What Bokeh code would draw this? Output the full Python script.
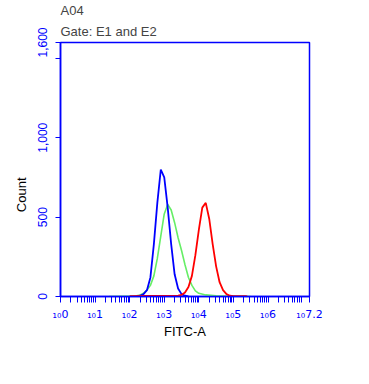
from bokeh.plotting import figure
from bokeh.models import FixedTicker, Title, Range1d
from bokeh.embed import file_html
from bokeh.resources import INLINE

# log10(FITC-A) bin centres and counts
blue_x = [2.2, 2.3, 2.4, 2.5, 2.6, 2.7, 2.8, 2.9, 3.0, 3.1, 3.2, 3.3, 3.4, 3.5, 3.6, 3.7]
blue_y = [0, 5, 15, 40, 120, 330, 590, 800, 750, 560, 330, 140, 50, 15, 5, 0]

green_x = [1.4, 1.8, 2.0, 2.2, 2.3, 2.4, 2.5, 2.6, 2.7, 2.8, 2.9, 3.0, 3.1, 3.2, 3.3, 3.4,
           3.5, 3.6, 3.7, 3.8, 3.9, 4.0, 4.2, 4.5, 5.0, 5.3, 5.5]
green_y = [0, 2, 3, 5, 10, 20, 40, 70, 130, 240, 380, 520, 580, 545, 465, 370,
           290, 200, 120, 70, 35, 20, 10, 5, 3, 2, 0]

red_x = [2.0, 2.4, 3.0, 3.4, 3.5, 3.6, 3.7, 3.8, 3.9, 4.0, 4.1, 4.2, 4.3, 4.4, 4.5, 4.6,
         4.7, 4.8, 4.9, 5.0, 5.35, 5.4]
red_y = [2, 3, 3, 5, 10, 25, 60, 130, 260, 420, 560, 590, 490, 330, 190, 90,
         40, 15, 5, 2, 2, 0]

y_ticks = [0, 500, 1000, 1500, 1600]
y_tick_labels = ["0", "500", "1,000", "", "1,600"]
x_decades = [0, 1, 2, 3, 4, 5, 6, 7.2]
x_tick_labels = ["\u2081\u20800", "\u2081\u20801", "\u2081\u20802", "\u2081\u20803",
                 "\u2081\u20804", "\u2081\u20805", "\u2081\u20806", "\u2081\u20807.2"]

BLUE = "#0000ff"
xmax = 10 ** 7.2

p = figure(width=355, height=370, x_axis_type="log", output_backend="svg",
           toolbar_location=None, x_range=Range1d(1, xmax), y_range=Range1d(0, 1600),
           min_border_left=60, min_border_right=46, min_border_top=10, min_border_bottom=74)
p.grid.visible = False
p.outline_line_color = BLUE
p.outline_line_width = 1.5
p.background_fill_color = "white"

p.line([10 ** v for v in green_x], green_y, line_color="#66ee66", line_width=1.6)
p.line([10 ** v for v in blue_x], blue_y, line_color=BLUE, line_width=1.8)
p.line([10 ** v for v in red_x], red_y, line_color="#ff0000", line_width=1.8)

major = [10 ** d for d in x_decades]
minor = [k * 10 ** d for d in range(0, 8) for k in range(2, 10) if k * 10 ** d < xmax]
p.xaxis.ticker = FixedTicker(ticks=major, minor_ticks=minor)
p.xaxis.major_label_overrides = {m: t for m, t in zip(major, x_tick_labels)}
p.xaxis.major_label_text_color = BLUE
p.xaxis.major_label_text_font = "DejaVu Sans"
p.xaxis.major_label_text_font_size = "11px"
p.xaxis.major_label_standoff = 5
p.xaxis.major_tick_out = 6
p.xaxis.major_tick_in = 0
p.xaxis.minor_tick_out = 6
p.xaxis.minor_tick_in = 0
p.xaxis.axis_label = "FITC-A"
p.xaxis.axis_label_text_font = "Liberation Sans"
p.xaxis.axis_label_text_font_size = "13px"
p.xaxis.axis_label_text_font_style = "normal"
p.xaxis.axis_label_text_color = "black"
p.xaxis.axis_label_standoff = 0

p.yaxis.ticker = FixedTicker(ticks=y_ticks, minor_ticks=[])
p.yaxis.major_label_overrides = {v: t for v, t in zip(y_ticks, y_tick_labels)}
p.yaxis.major_label_orientation = "vertical"
p.yaxis.major_label_text_color = BLUE
p.yaxis.major_label_text_font = "Liberation Sans"
p.yaxis.major_label_text_font_size = "12px"
p.yaxis.major_label_standoff = 9
p.yaxis.major_tick_out = 5
p.yaxis.major_tick_in = 0
p.yaxis.axis_label = "Count" + "\u00a0" * 14
p.yaxis.axis_label_text_font = "Liberation Sans"
p.yaxis.axis_label_text_font_size = "13px"
p.yaxis.axis_label_text_font_style = "normal"
p.yaxis.axis_label_text_color = "black"
p.yaxis.axis_label_standoff = 6

for ax in (p.xaxis, p.yaxis):
    ax.axis_line_color = BLUE
    ax.axis_line_width = 1.5
    ax.major_tick_line_color = BLUE
    ax.minor_tick_line_color = BLUE

p.add_layout(Title(text="Gate: E1 and E2", text_font="Liberation Sans", text_font_size="13px",
                   text_font_style="normal", align="left", standoff=8), "above")
p.add_layout(Title(text="A04", text_font="Liberation Sans", text_font_size="13px",
                   text_font_style="normal", align="left", standoff=0), "above")

open("out.html", "w").write(file_html(p, INLINE))
